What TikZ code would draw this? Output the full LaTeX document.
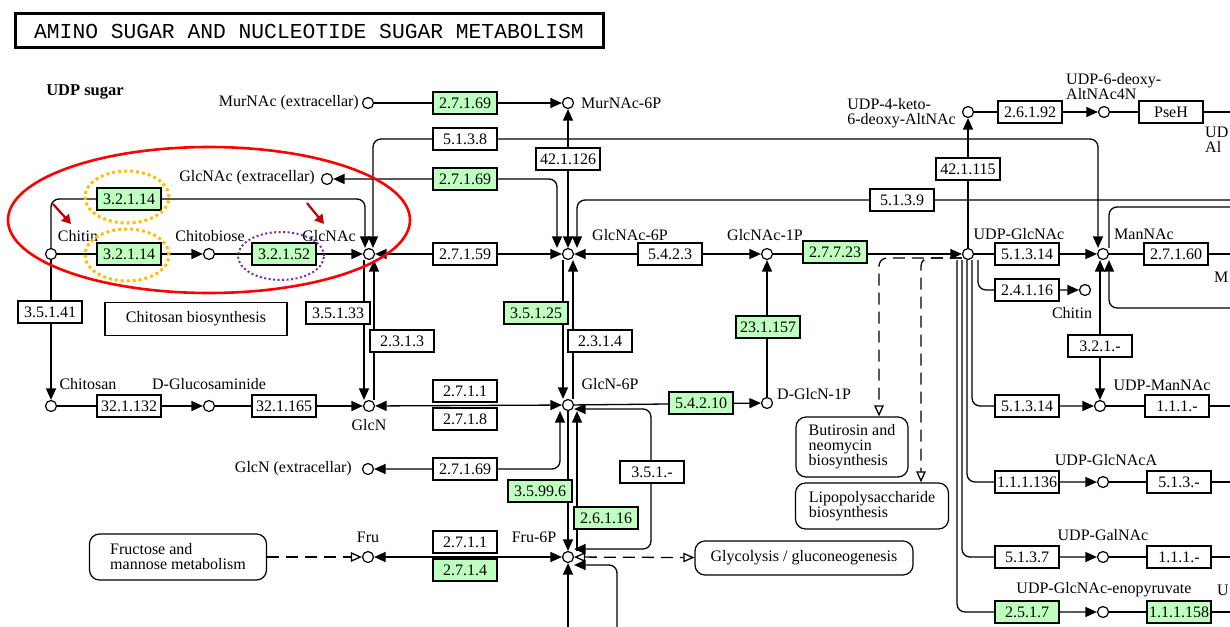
\documentclass[tikz,border=0pt]{standalone}
\usepackage{fontspec}
\setmainfont{Liberation Serif}
\newfontfamily\titlefont{Liberation Mono}
\usetikzlibrary{arrows.meta}
\pgfdeclarelayer{bg}
\pgfsetlayers{bg,main}
\definecolor{kegggreen}{RGB}{191,255,191}
\definecolor{hlred}{RGB}{255,0,0}
\definecolor{hlorange}{RGB}{255,192,0}
\definecolor{hlpurple}{RGB}{112,48,160}
\definecolor{darkred}{RGB}{192,0,0}
\newcommand{\keggfont}{\fontsize{16pt}{15pt}\selectfont}
\tikzset{
  cpd/.style={circle,draw,line width=1.2pt,minimum size=11pt,inner sep=0pt,fill=white},
  enz/.style={rectangle,draw,line width=1.2pt,minimum width=64pt,minimum height=22pt,inner sep=0pt,fill=white,font=\keggfont},
  enzg/.style={enz,fill=kegggreen},
  lbl/.style={inner sep=0pt,font=\keggfont},
  mapbox/.style={rectangle,draw,line width=1.2pt,rounded corners=10pt,inner sep=0pt,fill=white,align=left,font=\keggfont},
  conn/.style={line width=1.3pt,draw=black},
  fwd/.style={-{Triangle[length=11.5pt,width=10pt]}},
  bwd/.style={{Triangle[length=11.5pt,width=10pt]}-},
  biarr/.style={{Triangle[length=11.5pt,width=10pt]}-{Triangle[length=11.5pt,width=10pt]}},
  ofwd/.style={-{Triangle[open,length=11pt,width=9.5pt]}},
  obiarr/.style={{Triangle[open,length=11pt,width=9.5pt]}-{Triangle[open,length=11pt,width=9.5pt]}},
  dashstyle/.style={dash pattern=on 12pt off 7pt},
}
\begin{document}
\begin{tikzpicture}[x=1pt,y=-1pt]
\useasboundingbox (0,0) rectangle (1230,626);
\clip (0,0) rectangle (1230,626);

% title
\node[draw,line width=3pt,minimum width=588pt,minimum height=34pt,inner sep=0pt,fill=white,font=\titlefont\fontsize{21.3pt}{22pt}\selectfont] (title) at (309,31) {AMINO SUGAR AND NUCLEOTIDE SUGAR METABOLISM};
\node[lbl,font=\bfseries\fontsize{16.5pt}{16pt}\selectfont] (udpsugar) at (85,92) {UDP sugar};

% compounds
\node[cpd] (murnacx) at (368,103) {};
\node[cpd] (murnac6p) at (568,103) {};
\node[cpd] (glcnacx) at (327,179) {};
\node[cpd] (chitin) at (51,254) {};
\node[cpd] (chitobiose) at (209,254) {};
\node[cpd] (glcnac) at (369,254) {};
\node[cpd] (glcnac6p) at (568,254) {};
\node[cpd] (glcnac1p) at (767,254) {};
\node[cpd] (udpglcnac) at (968,254) {};
\node[cpd] (mannac) at (1103,254) {};
\node[cpd] (udpketo) at (968,112) {};
\node[cpd] (udpdeoxy) at (1104,112) {};
\node[cpd] (chitinr) at (1085,290) {};
\node[cpd] (chitosan) at (51,406) {};
\node[cpd] (dglucos) at (209,406) {};
\node[cpd] (glcn) at (369,406) {};
\node[cpd] (glcn6p) at (568,405) {};
\node[cpd] (dglcn1p) at (767,403) {};
\node[cpd] (udpmannac) at (1100,406) {};
\node[cpd] (glcnx) at (368,469) {};
\node[cpd] (fru) at (368,557) {};
\node[cpd] (fru6p) at (568,557) {};
\node[cpd] (udpglcnaca) at (1103,482) {};
\node[cpd] (udpgalnac) at (1103,557) {};
\node[cpd] (udpenopyr) at (1103,612) {};

% enzymes
\node[enzg] (e2716a) at (465,103) {2.7.1.69};
\node[enz] (e5138) at (465,139) {5.1.3.8};
\node[enz] (e421126) at (568,159) {42.1.126};
\node[enzg] (e2716b) at (465,179) {2.7.1.69};
\node[enzg] (e32114a) at (129,199) {3.2.1.14};
\node[enzg] (e32114b) at (129,254) {3.2.1.14};
\node[enzg] (e32152) at (284,254) {3.2.1.52};
\node[enz] (e27159) at (465,254) {2.7.1.59};
\node[enz] (e5423) at (670,254) {5.4.2.3};
\node[enzg] (e27723) at (835,252) {2.7.7.23};
\node[enz] (e5139) at (902,200) {5.1.3.9};
\node[enz] (e421115) at (968,169) {42.1.115};
\node[enz] (e26192) at (1030,112) {2.6.1.92};
\node[enz] (pseh) at (1171,112) {PseH};
\node[enz] (e51314a) at (1027,254) {5.1.3.14};
\node[enz] (e27160) at (1176,254) {2.7.1.60};
\node[enz] (e24116) at (1027,290) {2.4.1.16};
\node[enz] (e321m) at (1100,346) {3.2.1.-};
\node[enz] (e51314b) at (1027,406) {5.1.3.14};
\node[enz] (e111a) at (1177,406) {1.1.1.-};
\node[enz] (e111136) at (1027,482) {1.1.1.136};
\node[enz] (e513m) at (1179,482) {5.1.3.-};
\node[enz] (e5137) at (1027,557) {5.1.3.7};
\node[enz] (e111b) at (1179,557) {1.1.1.-};
\node[enzg] (e2517) at (1027,612) {2.5.1.7};
\node[enzg] (e111158) at (1179,612) {1.1.1.158};
\node[enz] (e35141) at (50,312) {3.5.1.41};
\node[enz] (e35133) at (338,313) {3.5.1.33};
\node[enz] (e2313) at (402,341) {2.3.1.3};
\node[enzg] (e35125) at (536,313) {3.5.1.25};
\node[enz] (e2314) at (600,341) {2.3.1.4};
\node[enzg] (e231157) at (768,327) {23.1.157};
\node[enz] (e321132) at (129,406) {32.1.132};
\node[enz] (e321165) at (284,406) {32.1.165};
\node[enz] (e2711a) at (465,391) {2.7.1.1};
\node[enz] (e2718) at (465,419) {2.7.1.8};
\node[enzg] (e54210) at (701,403) {5.4.2.10};
\node[enz] (e2716c) at (465,469) {2.7.1.69};
\node[enz] (e351m) at (652,472) {3.5.1.-};
\node[enzg] (e35996) at (540,491) {3.5.99.6};
\node[enzg] (e26116) at (606,518) {2.6.1.16};
\node[enz] (e2711b) at (465,542) {2.7.1.1};
\node[enzg] (e2714) at (465,570) {2.7.1.4};

% map boxes
\node[mapbox,minimum width=112pt,minimum height=60pt] (butirosin) at (852,447) {Butirosin and\\neomycin\\biosynthesis};
\node[mapbox,minimum width=153pt,minimum height=46pt] (lipo) at (872,506) {Lipopolysaccharide\\biosynthesis};
\node[mapbox,minimum width=218pt,minimum height=34pt] (glyco) at (804,558) {Glycolysis / gluconeogenesis};
\node[mapbox,minimum width=177pt,minimum height=46pt] (frumeta) at (178,557) {Fructose and\\mannose metabolism};
\node[rectangle,draw,line width=1.2pt,minimum width=182pt,minimum height=33pt,inner sep=0pt,fill=white,font=\keggfont] (chitobio) at (196,319) {Chitosan biosynthesis};

% labels
\node[lbl,anchor=east] (l1) at (359,103) {MurNAc (extracellar)};
\node[lbl,anchor=west] (l2) at (581,103) {MurNAc-6P};
\node[lbl,anchor=east] (l3) at (315,178) {GlcNAc (extracellar)};
\node[lbl] (l4) at (78,236) {Chitin};
\node[lbl] (l5) at (210,236) {Chitobiose};
\node[lbl] (l6) at (329,236) {GlcNAc};
\node[lbl] (l7) at (630,235) {GlcNAc-6P};
\node[lbl] (l8) at (765,235) {GlcNAc-1P};
\node[lbl] (l9) at (1019,234) {UDP-GlcNAc};
\node[lbl] (l10) at (1144,234) {ManNAc};
\node[lbl,anchor=east,align=left] (l11) at (956,113) {UDP-4-keto-\\6-deoxy-AltNAc};
\node[lbl,anchor=west,align=left] (l12) at (1066,87) {UDP-6-deoxy-\\AltNAc4N};
\node[lbl,anchor=west,align=left] (l13) at (1205,140) {UD\\Al};
\node[lbl] (l14) at (1072,313) {Chitin};
\node[lbl] (l15) at (88,384) {Chitosan};
\node[lbl] (l16) at (209,384) {D-Glucosaminide};
\node[lbl] (l17) at (369,425) {GlcN};
\node[lbl] (l18) at (610,384) {GlcN-6P};
\node[lbl,anchor=west] (l19) at (777,394) {D-GlcN-1P};
\node[lbl] (l20) at (1162,385) {UDP-ManNAc};
\node[lbl,anchor=west] (l21) at (1214,277) {M};
\node[lbl] (l22) at (1106,460) {UDP-GlcNAcA};
\node[lbl] (l23) at (1103,535) {UDP-GalNAc};
\node[lbl] (l24) at (1104,590) {UDP-GlcNAc-enopyruvate};
\node[lbl,anchor=west] (l25) at (1217,590) {U};
\node[lbl,anchor=east] (l26) at (352,469) {GlcN (extracellar)};
\node[lbl] (l27) at (368,537) {Fru};
\node[lbl] (l28) at (534,537) {Fru-6P};

% free ends at the picture edge
\coordinate (edgeA) at (1236,112);
\coordinate (edgeB) at (1236,200);
\coordinate (edgeC) at (1236,207);
\coordinate (edgeD) at (1236,254);
\coordinate (edgeE) at (1236,308);
\coordinate (edgeF) at (1236,406);
\coordinate (edgeG) at (1236,482);
\coordinate (edgeH) at (1236,557);
\coordinate (edgeI) at (1236,612);
\coordinate (edgeJ) at (617,632);
\coordinate (edgeK) at (568,632);

\begin{pgfonlayer}{bg}
\fill[white] (0,0) rectangle (1230,626);
\draw[conn,fwd] (murnacx) -- (murnac6p);
\draw[conn,biarr] (murnac6p) -- (glcnac6p);
\draw[conn,biarr,rounded corners=8pt] (glcnacx) -- (557,179) -- ([xshift=-11pt]glcnac6p.north);
\draw[conn,biarr,rounded corners=8pt] ([xshift=4pt]glcnac.north) -- (373,139) -- (1098,139) -- ([xshift=-5pt]mannac.north);
\draw[conn,bwd,rounded corners=8pt] ([xshift=9pt]glcnac6p.north) -- (577,200) -- (edgeB);
\draw[conn,fwd,rounded corners=8pt] (chitin.north) -- (51,199) -- (365,199) -- ([xshift=-4pt]glcnac.north);
\draw[conn,fwd] (chitin) -- (chitobiose);
\draw[conn,fwd] (chitobiose) -- (glcnac);
\draw[conn,biarr] (glcnac) -- (glcnac6p);
\draw[conn,biarr] (glcnac6p) -- (glcnac1p);
\draw[conn,fwd] (glcnac1p) -- (udpglcnac);
\draw[conn,fwd] (udpglcnac) -- (udpketo);
\draw[conn,fwd] (udpketo) -- (udpdeoxy);
\draw[conn] (udpdeoxy) -- (edgeA);
\draw[conn,fwd] (udpglcnac) -- (mannac);
\draw[conn] (mannac) -- (edgeD);
\draw[conn,rounded corners=8pt] ([xshift=6pt]mannac.north) -- (1109,207) -- (edgeC);
\draw[conn,bwd,rounded corners=8pt] ([xshift=6pt]mannac.south) -- (1109,308) -- (edgeE);
\draw[conn,biarr] ([xshift=-3pt]mannac.south) -- (udpmannac);
% UDP-GlcNAc bundle
\draw[conn,fwd,rounded corners=8pt] ([xshift=10pt]udpglcnac.south) -- (978,290) -- (chitinr);
\draw[conn,fwd,rounded corners=8pt] ([xshift=4pt]udpglcnac.south) -- (972,406) -- (udpmannac);
\draw[conn,fwd,rounded corners=8pt] ([xshift=-1pt]udpglcnac.south) -- (967,482) -- (udpglcnaca);
\draw[conn,fwd,rounded corners=8pt] ([xshift=-6pt]udpglcnac.south) -- (962,557) -- (udpgalnac);
\draw[conn,fwd,rounded corners=8pt] ([xshift=-11pt]udpglcnac.south) -- (957,612) -- (udpenopyr);
\draw[conn] (udpmannac) -- (edgeF);
\draw[conn] (udpglcnaca) -- (edgeG);
\draw[conn] (udpgalnac) -- (edgeH);
\draw[conn] (udpenopyr) -- (edgeI);
% dashed to map boxes
\draw[conn,dashstyle,ofwd,rounded corners=8pt] ([yshift=-4pt]udpglcnac.west) -- (879,258) -- ([xshift=27pt]butirosin.north);
\draw[conn,dashstyle,ofwd,rounded corners=8pt] ([yshift=-4pt]udpglcnac.west) -- (921,258) -- ([xshift=49pt]lipo.north);
% left part
\draw[conn,fwd] (chitin) -- (chitosan);
\draw[conn,fwd] (chitosan) -- (dglucos);
\draw[conn,fwd] (dglucos) -- (glcn);
\draw[conn,fwd] ([xshift=-5pt]glcnac.south) -- ([xshift=-5pt]glcn.north);
\draw[conn,fwd] ([xshift=5pt]glcn.north) -- ([xshift=5pt]glcnac.south);
\draw[conn,biarr] (glcn) -- (glcn6p);
\draw[conn,fwd] ([xshift=-5pt]glcnac6p.south) -- ([xshift=-5pt]glcn6p.north);
\draw[conn,fwd] ([xshift=5pt]glcn6p.north) -- ([xshift=5pt]glcnac6p.south);
\draw[conn,fwd] (glcn6p) -- (dglcn1p);
\draw[conn,fwd] (dglcn1p) -- (glcnac1p);
\draw[conn,biarr,rounded corners=8pt] (glcnx) -- (560,469) -- ([xshift=-8pt]glcn6p.south);
\draw[conn,fwd] (glcn6p) -- (fru6p);
\draw[conn,fwd] ([xshift=9pt]fru6p.north) -- ([xshift=9pt]glcn6p.south);
\draw[conn,biarr,rounded corners=8pt] ([yshift=-4pt]glcn6p.east) -- (651,409) -- (651,549) -- ([yshift=8pt]fru6p.east);
\draw[conn,dashstyle,obiarr] (fru6p) -- (glyco);
\draw[conn,bwd,rounded corners=8pt] ([yshift=-8pt]fru6p.east) -- (617,565) -- (edgeJ);
\draw[conn,fwd] (edgeK) -- (fru6p);
\draw[conn,biarr] (fru) -- (fru6p);
\draw[conn,dashstyle,ofwd] (frumeta) -- (fru);
\end{pgfonlayer}

% highlights
\draw[hlred,line width=2.6pt] (209,220) ellipse [x radius=201pt, y radius=73pt];
\draw[hlorange,line width=3pt,dash pattern=on 3pt off 3pt] (127,197) ellipse [x radius=42pt, y radius=26pt];
\draw[hlorange,line width=3pt,dash pattern=on 3pt off 3pt] (127,255) ellipse [x radius=42pt, y radius=26pt];
\draw[hlpurple,line width=2pt,dash pattern=on 2pt off 2.5pt] (281,256) ellipse [x radius=43pt, y radius=24pt];
\coordinate (ra1) at (53,204);
\coordinate (rb1) at (71,224);
\coordinate (ra2) at (307,203);
\coordinate (rb2) at (324,224);
\draw[darkred,line width=2.2pt,-{Triangle[length=9pt,width=10pt]}] (ra1) -- (rb1);
\draw[darkred,line width=2.2pt,-{Triangle[length=9pt,width=10pt]}] (ra2) -- (rb2);
\end{tikzpicture}
\end{document}
